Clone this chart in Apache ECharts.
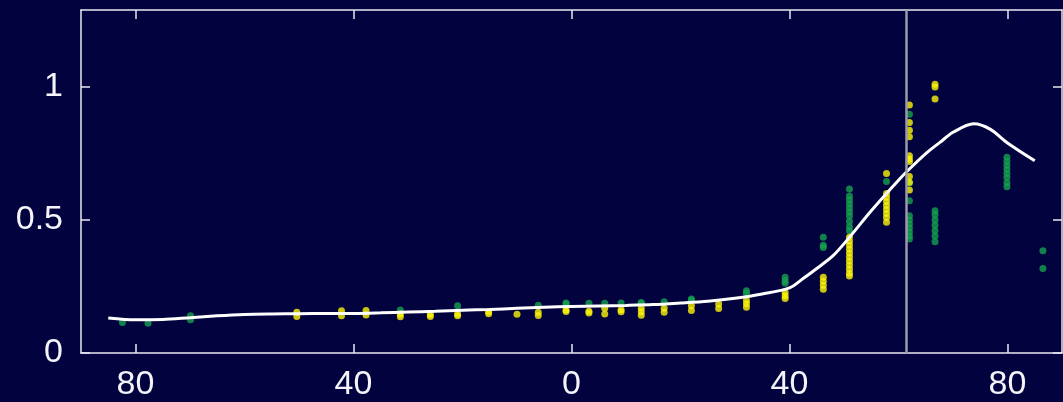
<!DOCTYPE html>
<html>
<head>
<meta charset="utf-8">
<script src="https://cdn.jsdelivr.net/npm/echarts@6/dist/echarts.min.js"></script>
<style>
  html, body { margin: 0; padding: 0; background: #02023f; }
  #chart { width: 1063px; height: 402px; }
</style>
</head>
<body>
<div id="chart"></div>
<script>
// tick labels
const xTicks = [-80, -40, 0, 40, 80]
const yTicks = [0, 0.5, 1]
const markerLat = 61.5

// white curve
const curveLat = [-85, -80, -75, -70, -65, -60, -55, -50, -45, -40, -35, -30, -25, -20, -15, -10, -5, 0, 5, 10, 15, 20, 25, 30, 35, 40, 42.5, 45, 48, 51, 55, 60, 62, 65, 67.6, 70, 73.8, 76.8, 80, 85]
const curveVal = [0.132, 0.125, 0.126, 0.133, 0.14, 0.145, 0.147, 0.148, 0.149, 0.149, 0.151, 0.154, 0.157, 0.161, 0.164, 0.168, 0.172, 0.175, 0.177, 0.179, 0.182, 0.188, 0.195, 0.206, 0.222, 0.245, 0.28, 0.318, 0.366, 0.435, 0.535, 0.65, 0.692, 0.75, 0.792, 0.83, 0.862, 0.842, 0.79, 0.723]

// green dots [lat, value]
const greenPoints = [
  [-82.4, 0.115], [-77.7, 0.112], [-69.9, 0.14], [-69.9, 0.125],
  [-31.4, 0.162], [-20.9, 0.178], [-6.1, 0.18], [-1, 0.188], [-1, 0.184],
  [3.2, 0.187], [6.1, 0.187], [9.1, 0.188], [12.8, 0.19], [12.8, 0.186],
  [17, 0.193], [22, 0.203], [22, 0.198], [32.1, 0.234], [32.1, 0.225],
  [39.2, 0.285], [39.2, 0.272], [39.2, 0.262],
  [46.2, 0.435], [46.2, 0.405], [46.2, 0.397],
  [51, 0.617], [51, 0.59], [51, 0.575], [51, 0.56], [51, 0.545], [51, 0.53], [51, 0.515], [51, 0.495], [51, 0.475], [51, 0.46],
  [57.8, 0.645],
  [62, 0.898], [62, 0.639], [62, 0.573], [62, 0.516], [62, 0.5], [62, 0.485], [62, 0.47], [62, 0.455], [62, 0.44], [62, 0.429],
  [66.7, 0.535], [66.7, 0.52], [66.7, 0.5], [66.7, 0.48], [66.7, 0.46], [66.7, 0.44], [66.7, 0.418],
  [79.9, 0.736], [79.9, 0.72], [79.9, 0.705], [79.9, 0.69], [79.9, 0.675], [79.9, 0.66], [79.9, 0.64], [79.9, 0.625],
  [86.5, 0.385], [86.5, 0.318]
]

// yellow dots [lat, value]
const yellowPoints = [
  [-50.4, 0.153], [-50.4, 0.137], [-42.2, 0.159], [-42.2, 0.14], [-37.7, 0.16], [-37.7, 0.143],
  [-31.4, 0.147], [-31.4, 0.136], [-25.9, 0.145], [-25.9, 0.137], [-20.9, 0.147], [-20.9, 0.14],
  [-15.2, 0.155], [-15.2, 0.148], [-10, 0.146], [-6.1, 0.153], [-6.1, 0.141], [-1, 0.162], [-1, 0.156],
  [3.2, 0.157], [3.2, 0.15], [6.1, 0.168], [6.1, 0.147], [9.1, 0.163], [9.1, 0.155],
  [12.8, 0.168], [12.8, 0.155], [12.8, 0.142], [17, 0.168], [17, 0.153], [22, 0.178], [22, 0.16],
  [27, 0.184], [27, 0.167], [32.1, 0.197], [32.1, 0.185], [32.1, 0.172],
  [39.2, 0.228], [39.2, 0.215], [39.2, 0.205],
  [46.2, 0.285], [46.2, 0.27], [46.2, 0.255], [46.2, 0.24],
  [51, 0.435], [51, 0.42], [51, 0.405], [51, 0.39], [51, 0.375], [51, 0.36], [51, 0.345], [51, 0.33], [51, 0.315], [51, 0.3], [51, 0.29],
  [57.8, 0.675], [57.8, 0.6], [57.8, 0.585], [57.8, 0.57], [57.8, 0.555], [57.8, 0.54], [57.8, 0.525], [57.8, 0.51], [57.8, 0.492],
  [62, 0.933], [62, 0.867], [62, 0.838], [62, 0.813], [62, 0.742], [62, 0.73], [62, 0.72], [62, 0.664], [62, 0.642], [62, 0.613],
  [66.7, 1.011], [66.7, 1.0], [66.7, 0.955]
]

const axisColor = '#e8e8f2'
const labelFont = 'Liberation Sans, Arial, sans-serif'

function frameAxis(position, withLabels, ticks, extra) {
  return Object.assign({
    type: 'value',
    position: position,
    axisLine: { show: true, onZero: false, lineStyle: { color: axisColor, width: 1.5 } },
    axisTick: {
      show: true,
      inside: true,
      length: 9,
      customValues: ticks,
      lineStyle: { color: axisColor, width: 1.5 }
    },
    axisLabel: {
      show: withLabels,
      customValues: ticks,
      color: '#f4f4fa',
      fontSize: 34,
      fontFamily: labelFont,
      formatter: function(v) { return String(Math.abs(v)) }
    },
    splitLine: { show: false }
  }, extra)
}

const chart = echarts.init(document.getElementById('chart'))

const option = {
  backgroundColor: '#02023f',
  animation: false,
  grid: { left: 81, right: 1, top: 10, bottom: 48 },
  xAxis: [
    frameAxis('bottom', true, xTicks, { min: -90, max: 90 }),
    frameAxis('top', false, xTicks, { min: -90, max: 90 })
  ],
  yAxis: [
    frameAxis('left', true, yTicks, { min: 0, max: 1.29 }),
    frameAxis('right', false, yTicks, { min: 0, max: 1.29 })
  ],
  series: [
    {
      type: 'scatter',
      symbolSize: 7,
      itemStyle: { color: '#17a04f' },
      data: greenPoints
    },
    {
      type: 'scatter',
      symbolSize: 7,
      itemStyle: { color: '#fbf40a' },
      data: yellowPoints
    },
    {
      type: 'line',
      showSymbol: false,
      smooth: 0.3,
      lineStyle: { color: '#ffffff', width: 3 },
      data: curveLat.map(function(lat, i) { return [lat, curveVal[i]] }),
      markLine: {
        silent: true,
        symbol: 'none',
        label: { show: false },
        lineStyle: { color: '#9a9aa8', width: 2.5, type: 'solid' },
        data: [{ xAxis: markerLat }]
      },
      z: 3
    }
  ]
}
// x axis labels need a little room below the frame
option.xAxis[0].axisLabel.margin = 15
option.yAxis[0].axisLabel.margin = 18

chart.setOption(option)
</script>
</body>
</html>
